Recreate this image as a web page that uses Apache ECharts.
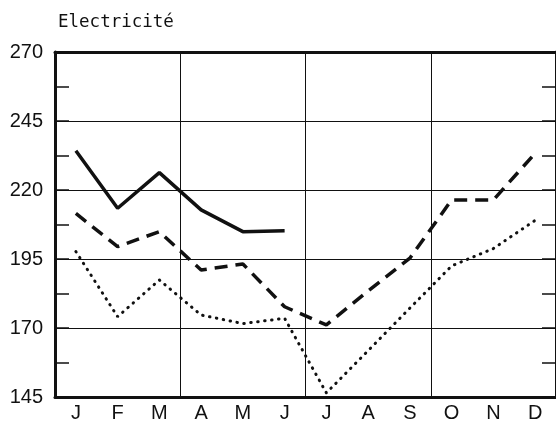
<!DOCTYPE html>
<html><head><meta charset="utf-8">
<script src="https://cdn.jsdelivr.net/npm/echarts@6/dist/echarts.min.js"></script>
<style>html,body{margin:0;padding:0;background:#fff}#c{width:556px;height:426px}</style>
</head><body><div id="c"></div>
<script>
const months = ['J','F','M','A','M','J','J','A','S','O','N','D'];
const seriesSolid = [234.2, 213.4, 226.3, 212.8, 204.9, 205.2, null, null, null, null, null, null];
const seriesDashed = [211.5, 199.5, 204.9, 191.0, 193.2, 177.7, 171.1, 183.4, 195.3, 216.4, 216.4, 233.3];
const seriesDotted = [197.7, 174.1, 187.4, 174.7, 171.6, 173.5, 146.5, 161.8, 177.2, 192.5, 198.8, 209.0];
const yMin = 145, yMax = 270;
const titleText = 'Electricité';

const font = 'Liberation Sans';
const chart = echarts.init(document.getElementById('c'));
const blk = '#111';
chart.setOption({
  animation: false,
  title: { text: titleText, left: 53, top: 8, textStyle: { fontFamily: 'DejaVu Sans Mono', fontSize: 17.5, fontWeight: 'normal', color: blk } },
  grid: { left: 55, right: -3, top: 52, bottom: 29 },
  xAxis: [{
    type: 'category', data: months, boundaryGap: true, position: 'bottom',
    axisLine: { lineStyle: { color: blk, width: 3 } },
    axisTick: { inside: true, length: 14, interval: 0, lineStyle: { color: blk, width: 1.5 } },
    axisLabel: { fontFamily: font, fontSize: 20, color: blk, margin: 6, interval: 0 },
    splitLine: { show: true, interval: function (i) { return i % 3 === 0 && i > 0; }, lineStyle: { color: blk, width: 1 } }
  }, {
    type: 'category', data: months, boundaryGap: true, position: 'top',
    axisLine: { lineStyle: { color: blk, width: 3 } },
    axisTick: { inside: true, length: 14, interval: 0, lineStyle: { color: blk, width: 1.5 } },
    axisLabel: { show: false }
  }],
  yAxis: [{
    type: 'value', min: yMin, max: yMax, interval: 25, position: 'left',
    axisLine: { show: true, lineStyle: { color: blk, width: 3 } },
    axisTick: { show: true, inside: true, length: 14, lineStyle: { color: blk, width: 1.5 } },
    minorTick: { show: true, splitNumber: 2, length: 14, lineStyle: { color: blk, width: 1.5 } },
    axisLabel: { fontFamily: font, fontSize: 20, color: blk, margin: 12 },
    splitLine: { show: true, lineStyle: { color: blk, width: 1 } }
  }, {
    type: 'value', min: yMin, max: yMax, interval: 25, position: 'right',
    axisLine: { show: true, lineStyle: { color: blk, width: 3 } },
    axisTick: { show: true, inside: true, length: 14, lineStyle: { color: blk, width: 1.5 } },
    minorTick: { show: true, splitNumber: 2, length: 14, lineStyle: { color: blk, width: 1.5 } },
    axisLabel: { show: false },
    splitLine: { show: false }
  }],
  series: [{
    type: 'line', data: seriesSolid, symbol: 'none', connectNulls: false,
    lineStyle: { color: blk, width: 3.5, type: 'solid' }
  }, {
    type: 'line', data: seriesDashed, symbol: 'none',
    lineStyle: { color: blk, width: 3.5, type: [13, 8] }
  }, {
    type: 'line', data: seriesDotted, symbol: 'none',
    lineStyle: { color: blk, width: 3, type: [0.5, 6.5], cap: 'round' }
  }]
});
</script></body></html>
